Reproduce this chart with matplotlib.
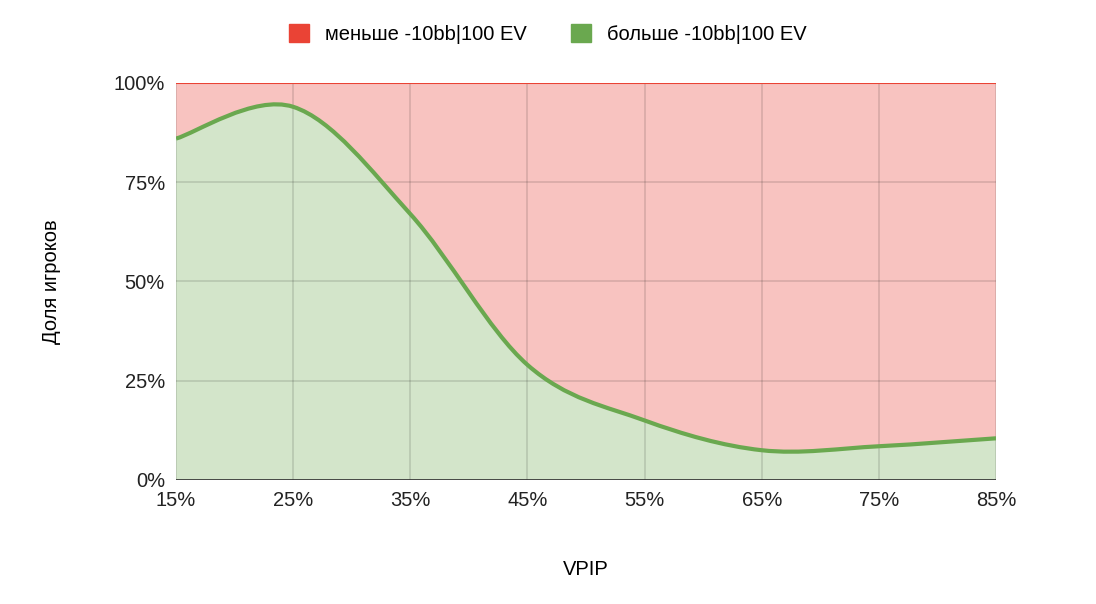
import matplotlib
matplotlib.use("Agg")
import matplotlib.pyplot as plt
from matplotlib.path import Path
from matplotlib.patches import PathPatch, Patch

plt.rcParams['font.family'] = ['Liberation Sans', 'DejaVu Sans']

vpip = [15, 25, 35, 45, 55, 65, 75, 85]
share_above = [86, 94, 67, 29, 15, 7.5, 8.5, 10.5]
tick_labels = ['15%', '25%', '35%', '45%', '55%', '65%', '75%', '85%']
y_ticks = [0, 25, 50, 75, 100]

red = '#ea4335'
green = '#6aa84f'


def smooth_verts(xs, ys, t=0.5):
    # Catmull-Rom -> cubic bezier control points
    verts = [(xs[0], ys[0])]
    codes = [Path.MOVETO]
    n = len(xs)
    for i in range(n - 1):
        x0, y0 = (xs[i - 1], ys[i - 1]) if i > 0 else (xs[i], ys[i])
        x1, y1 = xs[i], ys[i]
        x2, y2 = xs[i + 1], ys[i + 1]
        x3, y3 = (xs[i + 2], ys[i + 2]) if i + 2 < n else (x2, y2)
        c1 = (x1 + (x2 - x0) * t / 3, y1 + (y2 - y0) * t / 3)
        c2 = (x2 - (x3 - x1) * t / 3, y2 - (y3 - y1) * t / 3)
        verts += [c1, c2, (x2, y2)]
        codes += [Path.CURVE4] * 3
    return verts, codes


fig = plt.figure(figsize=(10.96, 6.04), dpi=100)
ax = fig.add_axes([0.1606, 0.2053, 0.7482, 0.6573])

verts, codes = smooth_verts(vpip, share_above)

# верхняя (красная) область
up_v = verts + [(vpip[-1], 100), (vpip[0], 100), verts[0]]
up_c = codes + [Path.LINETO, Path.LINETO, Path.CLOSEPOLY]
ax.add_patch(PathPatch(Path(up_v, up_c), facecolor='#f8c3c0', edgecolor='none', zorder=1))
# нижняя (зелёная) область
lo_v = verts + [(vpip[-1], 0), (vpip[0], 0), verts[0]]
lo_c = codes + [Path.LINETO, Path.LINETO, Path.CLOSEPOLY]
ax.add_patch(PathPatch(Path(lo_v, lo_c), facecolor='#d3e5ca', edgecolor='none', zorder=1))
ax.add_patch(PathPatch(Path(verts, codes), facecolor='none', edgecolor=green, lw=3, zorder=4))
ax.plot([vpip[0], vpip[-1]], [100, 100], color=red, lw=1.5, zorder=4)

ax.set_xlim(15, 85)
ax.set_ylim(0, 100)
ax.set_xticks(vpip)
ax.set_xticklabels(tick_labels)
ax.set_yticks(y_ticks)
ax.set_yticklabels([f'{v}%' for v in y_ticks])
ax.grid(True, color='#000000', alpha=0.13, lw=1.2, zorder=2)
ax.set_axisbelow(False)
for s in ax.spines.values():
    s.set_visible(False)
ax.axhline(0, color='#333333', lw=1.2, zorder=5)
ax.tick_params(length=0, labelsize=14.5, pad=8, colors='#222222')
ax.set_xlabel('VPIP', fontsize=14.5, labelpad=36)
ax.set_ylabel('Доля игроков', fontsize=14.5, labelpad=38)

handles = [Patch(color=red, label='меньше -10bb|100 EV'),
           Patch(color=green, label='больше -10bb|100 EV')]
fig.legend(handles=handles, loc='upper center', bbox_to_anchor=(0.5, 0.99), ncol=2,
           frameon=False, fontsize=14.5, handlelength=1.0, handleheight=1.0,
           columnspacing=2.2, handletextpad=0.8)

fig.savefig('out.png', dpi=100)
